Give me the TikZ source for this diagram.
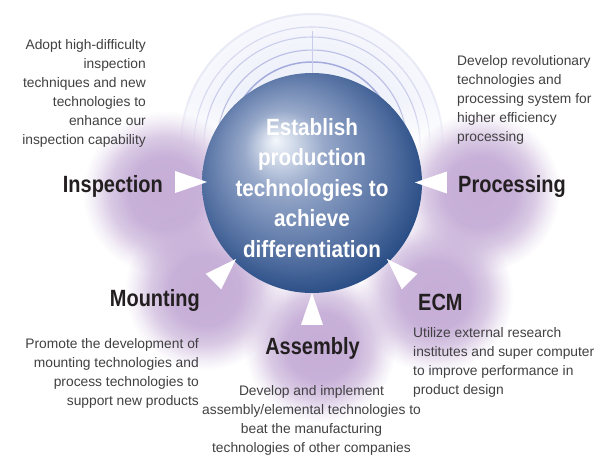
\documentclass[tikz,border=0pt]{standalone}
\usepackage{fontspec}
\setmainfont{Liberation Sans}
\usetikzlibrary{fadings,shapes.geometric}
\definecolor{desctext}{HTML}{414042}
\definecolor{lbltext}{HTML}{231F20}
\definecolor{glowc}{RGB}{198,174,215}
\definecolor{ringA}{HTML}{A4ACDD}
\definecolor{ringB}{HTML}{B9BFE4}
\definecolor{ringC}{HTML}{C9CDEB}
\definecolor{ringD}{HTML}{D6DAF0}
\definecolor{ringE}{HTML}{E8EAF6}
\definecolor{domeIn}{HTML}{E1E6F6}
\definecolor{domeOut}{HTML}{F7F8FD}
\definecolor{sphA}{HTML}{F4F7FC}
\definecolor{sphB}{HTML}{D6DEEC}
\definecolor{sphC}{HTML}{98A9CA}
\definecolor{sphD}{HTML}{7189B4}
\definecolor{sphE}{HTML}{506D9F}
\definecolor{sphF}{HTML}{2A4E86}
\definecolor{sphG}{HTML}{1B3D71}
\pgfdeclareradialshading{sphereshade}{\pgfpoint{-8.4bp}{9.8bp}}{color(0bp)=(sphA); color(3bp)=(sphB); color(9bp)=(sphC); color(16bp)=(sphD); color(22bp)=(sphE); color(28bp)=(sphF); color(34bp)=(sphG); color(38bp)=(sphG)}
\pgfdeclareradialshading{glowshape}{\pgfpointorigin}{color(0bp)=(white); color(11bp)=(black!4); color(17bp)=(black!35); color(22bp)=(black!80); color(25bp)=(black); color(50bp)=(black)}
\pgfdeclarefading{glowfade}{\pgfuseshading{glowshape}}
\pgfdeclareverticalshading{domeshape}{100bp}{color(0bp)=(black); color(49bp)=(black); color(59bp)=(white); color(100bp)=(white)}
\pgfdeclarefading{domefade}{\pgfuseshading{domeshape}}
\tikzset{
  desc/.style={text=desctext, inner sep=0pt, font=\fontsize{13.8}{19}\selectfont},
  lbl/.style={text=lbltext, inner sep=0pt, font=\fontsize{23.5}{28}\selectfont\bfseries},
  glow/.style={fill=glowc, path fading=glowfade},
  tri/.style={isosceles triangle, isosceles triangle stretches, fill=white, inner sep=0pt,
    minimum width=22pt, minimum height=32pt},
  ring/.style={line width=1.1pt, path fading=domefade}
}
\newcommand{\cnd}[1]{\scalebox{0.85}[1]{#1}}
\begin{document}
\begin{tikzpicture}[x=1pt,y=-1pt]
\useasboundingbox (0,0) rectangle (595,456);
\fill[white] (0,0) rectangle (595,456);
% dome behind sphere
\begin{scope}
  \clip (150,0) rectangle (470,150);
  \shade[inner color=domeIn, outer color=domeOut, path fading=domefade] (312,145) circle (131);
  \draw[ringE, ring, line width=2pt] (312,145) circle (131);
  \draw[ringD, ring] (312,145) circle (118);
  \draw[ringC, ring] (312,145) circle (108);
  \draw[ringB, ring] (312,145) circle (95);
  \draw[ringA, ring, line width=1.5pt] (312,145) circle (83);
\end{scope}
\coordinate (vtop) at (312,31);
% glows
\fill[glow] (165,193) circle (82);
\fill[glow] (480,192) circle (80);
\fill[glow] (205,290) circle (80);
\fill[glow] (320,346) circle (76);
\fill[glow] (435,295) circle (78);
% sphere
\node[circle, minimum size=220pt, inner sep=0pt, shading=sphereshade] (core) at (312,183) {};
\draw[ringC, line width=1pt] (vtop) -- (core.north);
\node[text=white, inner sep=0pt, anchor=base, font=\fontsize{23.5}{30.5}\selectfont\bfseries] (coretxt) at (312,135)
  {\scalebox{0.88}[1]{\begin{tabular}[t]{@{}c@{}}Establish\\production\\technologies to\\achieve\\differentiation\end{tabular}}};
% triangles
\node[tri, rotate=0] (tInsp) at (183,182) {};
\node[tri, rotate=180] (tProc) at (439,182.5) {};
\node[tri, rotate=45] (tMount) at (219,276) {};
\node[tri, rotate=90] (tAssy) at (312,317) {};
\node[tri, rotate=135] (tEcm) at (404,276) {};
% labels
\node[lbl, anchor=base east] (lInsp) at (163,192) {\cnd{Inspection}};
\node[lbl, anchor=base west] (lProc) at (458,192) {\cnd{Processing}};
\node[lbl, anchor=base east] (lMount) at (200,306) {\cnd{Mounting}};
\node[lbl, anchor=base] (lAssy) at (312.5,354) {\cnd{Assembly}};
\node[lbl, anchor=base west] (lEcm) at (418,310) {\cnd{ECM}};
% descriptions
\node[desc, anchor=base east] (dInsp) at (146,49)
  {\begin{tabular}[t]{@{}r@{}}Adopt high-difficulty\\inspection\\techniques and new\\technologies to\\enhance our\\inspection capability\end{tabular}};
\node[desc, anchor=base west] (dProc) at (457,65)
  {\begin{tabular}[t]{@{}l@{}}Develop revolutionary\\technologies and\\processing system for\\higher efficiency\\processing\end{tabular}};
\node[desc, anchor=base east] (dMount) at (199,348)
  {\begin{tabular}[t]{@{}r@{}}Promote the development of\\mounting technologies and\\process technologies to\\support new products\end{tabular}};
\node[desc, anchor=base] (dAssy) at (311.5,395)
  {\begin{tabular}[t]{@{}c@{}}Develop and implement\\assembly/elemental technologies to\\beat the manufacturing\\technologies of other companies\end{tabular}};
\node[desc, anchor=base west] (dEcm) at (413,337)
  {\begin{tabular}[t]{@{}l@{}}Utilize external research\\institutes and super computer\\to improve performance in\\product design\end{tabular}};
\end{tikzpicture}
\end{document}
